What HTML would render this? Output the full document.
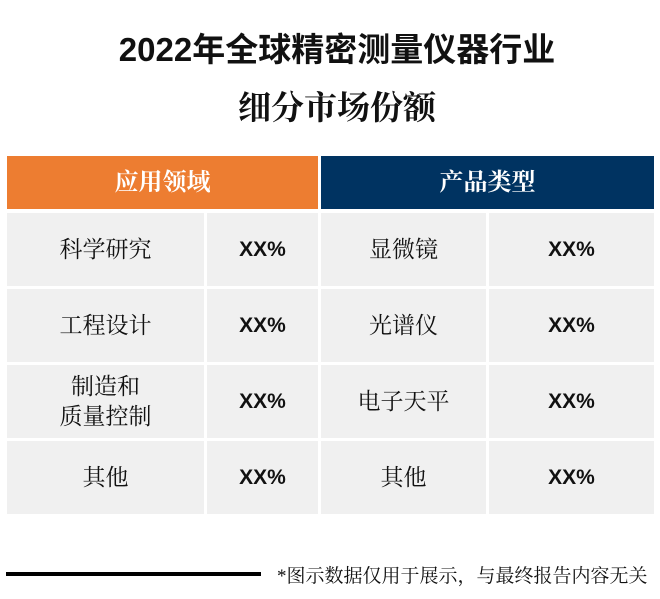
<!DOCTYPE html>
<html><head><meta charset="utf-8"><style>
body{margin:0;width:660px;height:599px;background:#fff;position:relative;overflow:hidden;font-family:"Liberation Serif","Noto Serif CJK SC","Noto Sans CJK SC",serif}
.t{position:absolute;left:0;width:660px;text-align:center;font-size:33px;font-weight:bold;color:#111}
.c{position:absolute;display:flex;align-items:center;justify-content:center;background:#f0f0f0;color:#111;font-size:23px;text-align:center;line-height:30px}
.p{font-family:"Liberation Sans",sans-serif;font-weight:bold;font-size:21px}
.h{color:#fff;font-size:24px;font-weight:bold}
</style></head><body>
<div class="t" style="top:23px;left:7px;font-family:'Liberation Sans','Noto Sans CJK SC',sans-serif">2022年全球精密测量仪器行业</div>
<div class="t" style="top:82px;left:7px">细分市场份额</div>
<div class="c h" style="left:7px;top:156px;width:311px;height:53px;background:#ed7d31">应用领域</div>
<div class="c h" style="left:321px;top:156px;width:333px;height:53px;background:#003361">产品类型</div>

<div class="c" style="left:7px;top:213px;width:197px;height:73px">科学研究</div>
<div class="c p" style="left:207px;top:213px;width:111px;height:73px">XX%</div>
<div class="c" style="left:321px;top:213px;width:165px;height:73px">显微镜</div>
<div class="c p" style="left:489px;top:213px;width:165px;height:73px">XX%</div>

<div class="c" style="left:7px;top:289px;width:197px;height:73px">工程设计</div>
<div class="c p" style="left:207px;top:289px;width:111px;height:73px">XX%</div>
<div class="c" style="left:321px;top:289px;width:165px;height:73px">光谱仪</div>
<div class="c p" style="left:489px;top:289px;width:165px;height:73px">XX%</div>

<div class="c" style="left:7px;top:365px;width:197px;height:73px">制造和<br>质量控制</div>
<div class="c p" style="left:207px;top:365px;width:111px;height:73px">XX%</div>
<div class="c" style="left:321px;top:365px;width:165px;height:73px">电子天平</div>
<div class="c p" style="left:489px;top:365px;width:165px;height:73px">XX%</div>

<div class="c" style="left:7px;top:441px;width:197px;height:73px">其他</div>
<div class="c p" style="left:207px;top:441px;width:111px;height:73px">XX%</div>
<div class="c" style="left:321px;top:441px;width:165px;height:73px">其他</div>
<div class="c p" style="left:489px;top:441px;width:165px;height:73px">XX%</div>

<div style="position:absolute;left:6px;top:572px;width:255px;height:4px;background:#000"></div>
<div style="position:absolute;left:277px;top:561px;font-size:19px;color:#111;white-space:nowrap">*图示数据仅用于展示，与最终报告内容无关</div>
</body></html>
